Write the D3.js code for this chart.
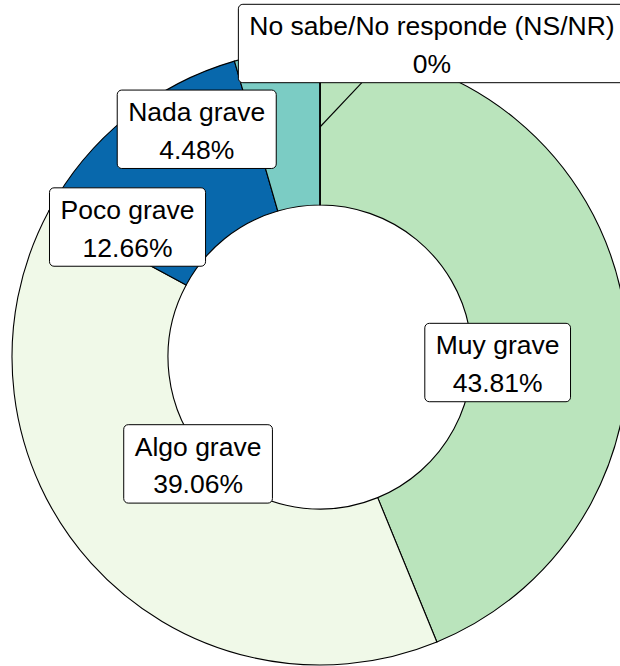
<!DOCTYPE html>
<html>
<head>
<meta charset="utf-8">
<script src="https://cdn.jsdelivr.net/npm/d3@7"></script>
<style>
  html, body { margin: 0; padding: 0; background: #fff; }
  svg { display: block; }
</style>
</head>
<body>
<svg id="chart" width="620" height="666"></svg>
<script>
// ---- data ----
const categories = ["Muy grave", "Algo grave", "Poco grave", "Nada grave", "No sabe/No responde (NS/NR)"];
const percentages = [43.81, 39.06, 12.66, 4.48, 0];
const valueLabels = ["43.81%", "39.06%", "12.66%", "4.48%", "0%"];
const colors = ["#bae4bc", "#f0f9e8", "#0868ac", "#7bccc4", "#43a2ca"];

// ---- layout (label nudges from the ring mid-point, like a repel layout) ----
const labelNudgeX = [-48, 49, -48, -91, 112];
const labelNudgeY = [50, -47, 49, 0, -83.5];
const showSegment = [false, false, false, false, true];
const segSlope = [0, 0, 0, 0, -0.945]; // dx per unit of upward dy

const width = 620, height = 666;
const cx = 320, cy = 357;
const rInner = 152, rOuter = 308;
const fontSize = 26.5, padX = 11, boxH = 78.4;

const svg = d3.select("#chart");
const data = categories.map((c, i) => ({ cat: c, value: percentages[i], label: valueLabels[i], i }));

const pie = d3.pie().sort(null).value(d => d.value);
const arcs = pie(data);
const arc = d3.arc().innerRadius(rInner).outerRadius(rOuter);
const midArc = d3.arc().innerRadius((rInner + rOuter) / 2).outerRadius((rInner + rOuter) / 2);

const g = svg.append("g").attr("transform", `translate(${cx},${cy})`);

g.selectAll("path.slice")
  .data(arcs)
  .join("path")
  .attr("class", "slice")
  .attr("d", arc)
  .attr("fill", d => colors[d.data.i])
  .attr("stroke", "#000")
  .attr("stroke-width", 1.1);

// zero-width boundary line for the 0% category
arcs.filter(d => d.value === 0).forEach(d => {
  const a = d.startAngle;
  g.append("line")
    .attr("x1", rInner * Math.sin(a)).attr("y1", -rInner * Math.cos(a))
    .attr("x2", rOuter * Math.sin(a)).attr("y2", -rOuter * Math.cos(a))
    .attr("stroke", "#000").attr("stroke-width", 1.1);
});

const labelsG = g.append("g");
arcs.forEach(d => {
  const i = d.data.i;
  let [ax, ay] = midArc.centroid(d);
  if (d.value === 0) { ax = rInner + 0 === 0 ? 0 : ((rInner + rOuter) / 2) * Math.sin(d.startAngle); ay = -((rInner + rOuter) / 2) * Math.cos(d.startAngle); }
  const lx = ax + labelNudgeX[i], ly = ay + labelNudgeY[i];
  const lg = labelsG.append("g");
  const rect = lg.append("rect");
  const t1 = lg.append("text").text(d.data.cat)
    .attr("x", lx).attr("y", ly - boxH / 2 + 31)
    .attr("text-anchor", "middle")
    .attr("font-family", "Liberation Sans, Arial, sans-serif")
    .attr("font-size", fontSize).attr("fill", "#000");
  const t2 = lg.append("text").text(d.data.label)
    .attr("x", lx).attr("y", ly - boxH / 2 + 68.7)
    .attr("text-anchor", "middle")
    .attr("font-family", "Liberation Sans, Arial, sans-serif")
    .attr("font-size", fontSize).attr("fill", "#000");
  const w = Math.max(t1.node().getComputedTextLength(), t2.node().getComputedTextLength()) + 2 * padX;
  rect.attr("x", lx - w / 2).attr("y", ly - boxH / 2)
    .attr("width", w).attr("height", boxH)
    .attr("rx", 4.5).attr("ry", 4.5)
    .attr("fill", "#fff").attr("stroke", "#000").attr("stroke-width", 1);
  if (showSegment[i]) {
    const bottom = ly + boxH / 2;
    const dy = bottom - ay;
    g.insert("line", "g")
      .attr("x1", ax).attr("y1", ay)
      .attr("x2", ax + dy * segSlope[i]).attr("y2", bottom)
      .attr("stroke", "#000").attr("stroke-width", 1.1);
  }
});
</script>
</body>
</html>
